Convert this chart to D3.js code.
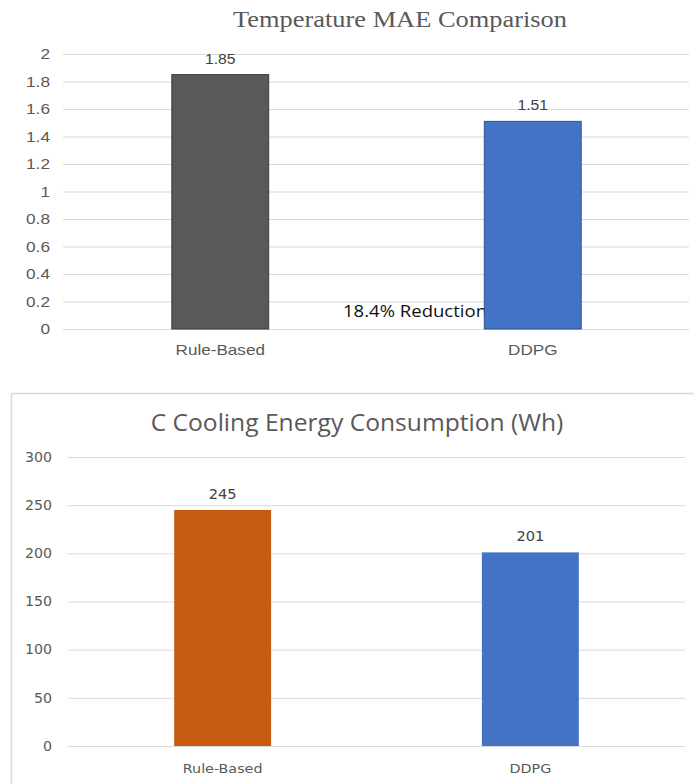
<!DOCTYPE html>
<html><head><meta charset="utf-8">
<script src="https://cdn.jsdelivr.net/npm/d3@7/dist/d3.min.js"></script>
<style>body{margin:0;background:#fff}svg{display:block}</style>
</head><body>
<svg id="c" width="694" height="784"></svg>
<script>
const categories = ["Rule-Based", "DDPG"];
const maeValues = [1.85, 1.51];
const maeTicks = [0, 0.2, 0.4, 0.6, 0.8, 1, 1.2, 1.4, 1.6, 1.8, 2];
const energyValues = [245, 201];
const energyTicks = [0, 50, 100, 150, 200, 250, 300];
const maeColors = ["#595959", "#4472C4"];
const maeStrokes = ["#3a3a3a", "#2F528F"];
const energyColors = ["#C55A11", "#4472C4"];
const topTitle = "Temperature MAE Comparison";
const bottomTitle = "C Cooling Energy Consumption (Wh)";
const annotation = "18.4% Reduction";

const svg = d3.select("#c");

// widen text horizontally by factor k
function stretch(sel, k) {
  sel.each(function () {
    const w = this.getComputedTextLength();
    d3.select(this).attr("textLength", w * k).attr("lengthAdjust", "spacingAndGlyphs");
  });
}

// ---------- Top chart ----------
{
  const x = d3.scaleBand().domain(categories).range([64, 689]).paddingInner(0.69).paddingOuter(0.345);
  const y = d3.scaleLinear().domain([0, 2]).range([329, 54]);
  const g = svg.append("g");
  g.append("text").attr("x", 400).attr("y", 27).attr("text-anchor", "middle")
    .attr("font-family", "'Liberation Serif', serif").attr("font-size", 24).attr("fill", "#595959")
    .text(topTitle).call(stretch, 1.1);
  const axis = d3.axisLeft(y).tickValues(maeTicks).tickSize(-(689 - 63)).tickFormat(d3.format("~g"));
  const ag = g.append("g").attr("transform", "translate(63,0)").call(axis);
  ag.select(".domain").remove();
  ag.selectAll(".tick line").attr("stroke", "#d9d9d9").attr("stroke-width", 1);
  ag.selectAll(".tick text").attr("x", -13).attr("fill", "#595959")
    .attr("font-family", "'Liberation Sans', Arial, sans-serif").attr("font-size", 15).call(stretch, 1.15);
  g.append("text").attr("x", 487).attr("y", 317).attr("text-anchor", "end")
    .attr("font-family", "'Open Sans', sans-serif").attr("font-size", 17).attr("fill", "#111")
    .text(annotation).call(stretch, 1.0).attr("textLength", 144);
  g.selectAll("rect.b").data(maeValues).join("rect")
    .attr("x", (d, i) => x(categories[i])).attr("width", x.bandwidth())
    .attr("y", d => y(d)).attr("height", d => y(0) - y(d))
    .attr("fill", (d, i) => maeColors[i]).attr("stroke", (d, i) => maeStrokes[i]).attr("stroke-width", 1);
  g.selectAll("text.v").data(maeValues).join("text").attr("class", "v")
    .attr("x", (d, i) => x(categories[i]) + x.bandwidth() / 2).attr("y", d => y(d) - 11)
    .attr("text-anchor", "middle").attr("font-family", "'Liberation Sans', Arial, sans-serif")
    .attr("font-size", 14).attr("fill", "#404040").text(d => d.toFixed(2)).call(stretch, 1.12);
  g.selectAll("text.c").data(categories).join("text").attr("class", "c")
    .attr("x", d => x(d) + x.bandwidth() / 2).attr("y", 355)
    .attr("text-anchor", "middle").attr("font-family", "'Liberation Sans', Arial, sans-serif")
    .attr("font-size", 15).attr("fill", "#595959").text(d => d).call(stretch, 1.14);
}

// ---------- Bottom chart ----------
{
  svg.append("rect").attr("x", 11.5).attr("y", 393.5).attr("width", 700).attr("height", 400)
    .attr("fill", "#fff").attr("stroke", "#d9d9d9").attr("stroke-width", 1.5);
  const x = d3.scaleBand().domain(categories).range([68, 685]).paddingInner(0.685).paddingOuter(0.345);
  const y = d3.scaleLinear().domain([0, 300]).range([746, 457]);
  const g = svg.append("g");
  g.append("text").attr("x", 357).attr("y", 431).attr("text-anchor", "middle")
    .attr("font-family", "'Open Sans', sans-serif").attr("font-size", 23).attr("fill", "#595959")
    .text(bottomTitle).call(stretch, 1.07);
  const axis = d3.axisLeft(y).tickValues(energyTicks).tickSize(-(685 - 68));
  const ag = g.append("g").attr("transform", "translate(68,0)").call(axis);
  ag.select(".domain").remove();
  ag.selectAll(".tick line").attr("stroke", "#d9d9d9").attr("stroke-width", 1);
  ag.selectAll(".tick text").attr("x", -16).attr("fill", "#595959")
    .attr("font-family", "'DejaVu Sans', Verdana, sans-serif").attr("font-size", 13.5).call(stretch, 1.05);
  g.selectAll("rect.b").data(energyValues).join("rect")
    .attr("x", (d, i) => x(categories[i])).attr("width", x.bandwidth())
    .attr("y", d => y(d)).attr("height", d => y(0) - y(d))
    .attr("fill", (d, i) => energyColors[i]);
  g.selectAll("text.v").data(energyValues).join("text").attr("class", "v")
    .attr("x", (d, i) => x(categories[i]) + x.bandwidth() / 2).attr("y", d => y(d) - 11)
    .attr("text-anchor", "middle").attr("font-family", "'DejaVu Sans', Verdana, sans-serif")
    .attr("font-size", 13.5).attr("fill", "#404040").text(d => d).call(stretch, 1.08);
  g.selectAll("text.c").data(categories).join("text").attr("class", "c")
    .attr("x", d => x(d) + x.bandwidth() / 2).attr("y", 773)
    .attr("text-anchor", "middle").attr("font-family", "'DejaVu Sans', Verdana, sans-serif")
    .attr("font-size", 13).attr("fill", "#595959").text(d => d).call(stretch, 1.1);
}
</script>
</body></html>
